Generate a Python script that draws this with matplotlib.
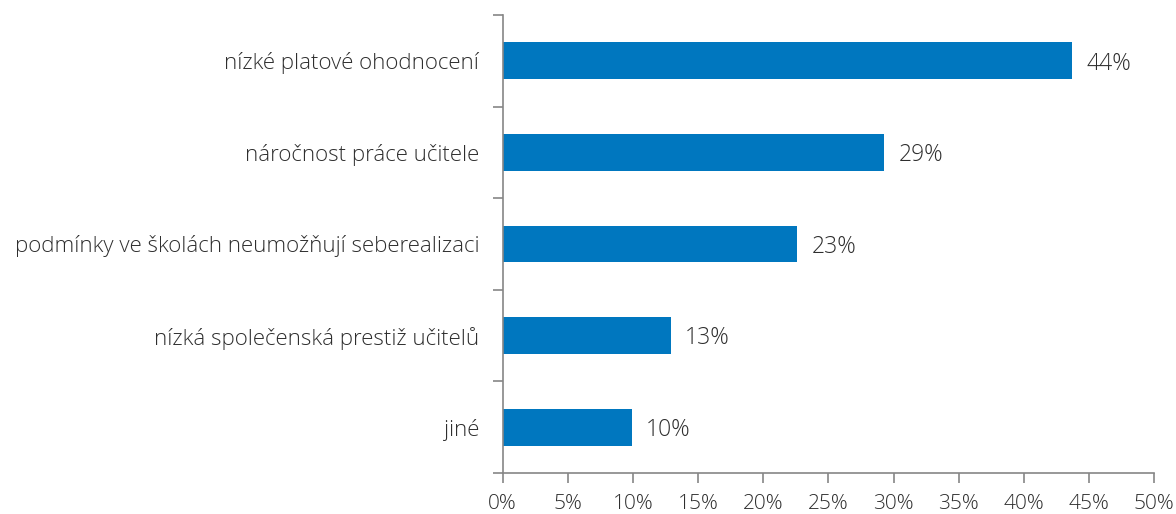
import numpy as np
import matplotlib.pyplot as plt
from matplotlib.ticker import FixedLocator, PercentFormatter

categories = [
    "nízké platové ohodnocení",
    "náročnost práce učitele",
    "podmínky ve školách neumožňují seberealizaci",
    "nízká společenská prestiž učitelů",
    "jiné",
]
values = [43.7, 29.3, 22.6, 12.9, 9.9]
labels = ["44%", "29%", "23%", "13%", "10%"]

plt.rcParams['font.family'] = ['Open Sans', 'DejaVu Sans']
text_color = '#2e2e2e'
axis_color = '#868686'
fs = 16

fig = plt.figure(figsize=(11.76, 5.14), dpi=100)
ax = fig.add_axes([0.4275, 0.0798, 0.5538, 0.891])

y = np.arange(len(categories))
ax.barh(y, values, height=0.4, color='#0077BF')

# popisky hodnot vpravo od sloupců
for yi, v, lab in zip(y, values, labels):
    ax.text(v + 1.1, yi + 0.03, lab, va='center', ha='left', fontsize=fs + 0.5,
            color=text_color, fontweight='light')

ax.set_xlim(0, 50)
ax.set_ylim(len(categories) - 0.5, -0.5)
ax.set_xticks(np.arange(0, 51, 5))
ax.xaxis.set_major_formatter(PercentFormatter(decimals=0))
ax.set_yticks(y)
ax.set_yticklabels(categories)
ax.yaxis.set_minor_locator(FixedLocator(np.arange(-0.5, len(categories), 1)))

ax.tick_params(axis='y', which='major', length=0, pad=17, labelsize=fs,
               labelcolor=text_color)
ax.tick_params(axis='y', which='minor', length=7, width=1.2, color=axis_color)
ax.tick_params(axis='x', which='major', length=7, width=1.2, color=axis_color,
               labelsize=fs - 1, labelcolor=text_color, pad=8)

for lab in ax.get_xticklabels() + ax.get_yticklabels():
    lab.set_fontweight('light')

for side in ['top', 'right']:
    ax.spines[side].set_visible(False)
for side in ['left', 'bottom']:
    ax.spines[side].set_color(axis_color)
    ax.spines[side].set_linewidth(1.2)

fig.savefig('out.png', dpi=100)
